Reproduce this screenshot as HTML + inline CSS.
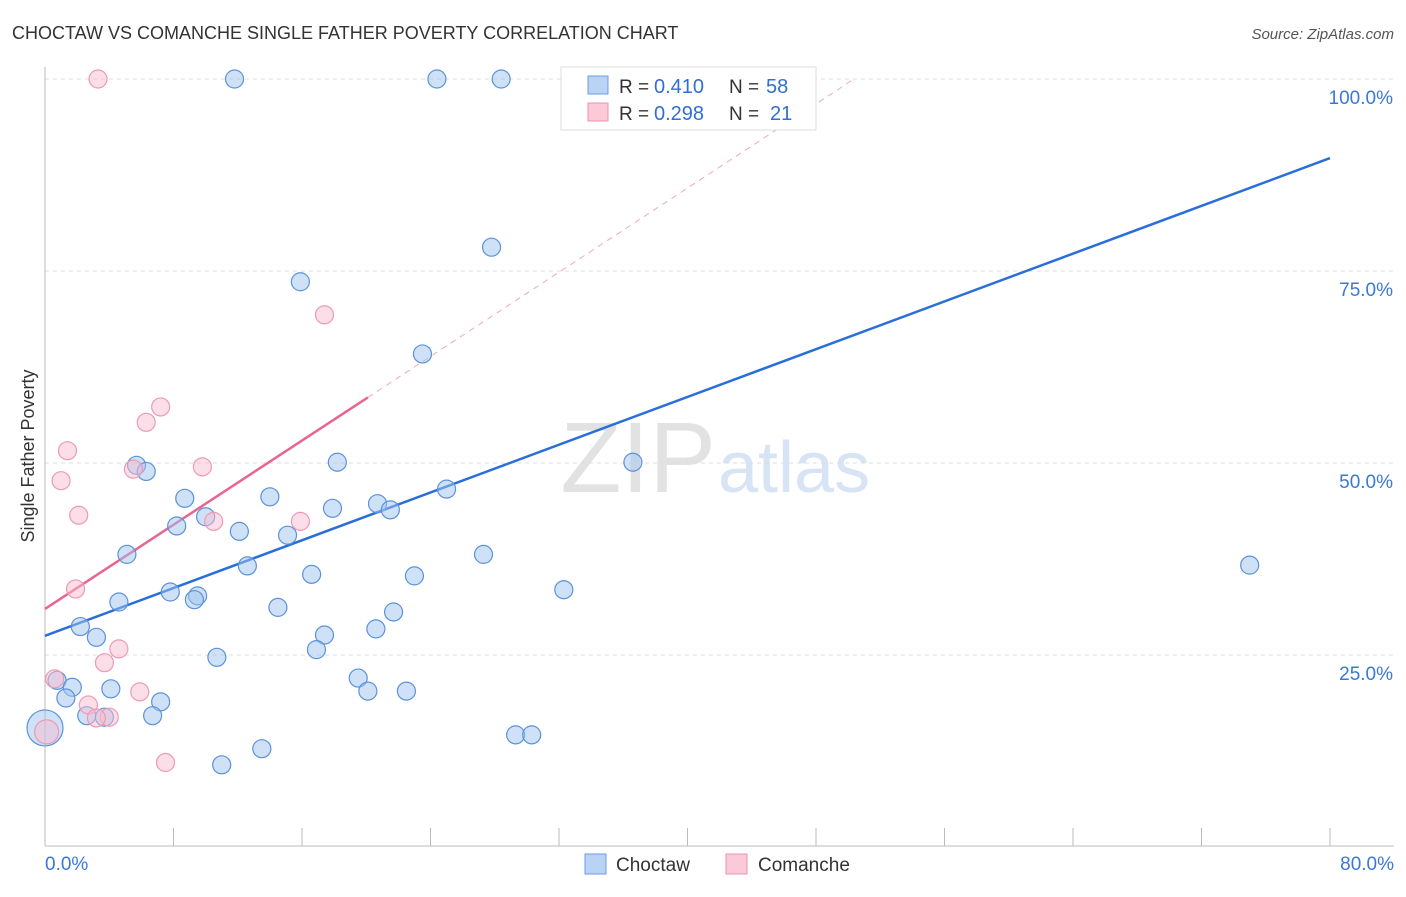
<!DOCTYPE html>
<html><head><meta charset="utf-8"><style>
body{margin:0;background:#fff;font-family:"Liberation Sans",sans-serif;}
svg text{font-family:"Liberation Sans",sans-serif;}
</style></head><body>
<svg id="chart" width="1406" height="892">
<text x="12" y="39" font-size="18" fill="#333">CHOCTAW VS COMANCHE SINGLE FATHER POVERTY CORRELATION CHART</text>
<text x="1394" y="39" font-size="15" fill="#555" font-style="italic" text-anchor="end">Source: ZipAtlas.com</text>
<text x="716" y="492" font-size="100" fill="#e2e2e2" text-anchor="end" font-family="Liberation Serif">ZIP</text>
<text x="718" y="492" font-size="72" fill="#d6e4f5">atlas</text>
<g id="grid"></g><g id="axes"></g><g id="lines"></g><g id="pts"></g>
<text transform="translate(34,456) rotate(-90)" font-size="18" fill="#333" text-anchor="middle">Single Father Poverty</text>
<g>
<rect x="561" y="67" width="255" height="63" fill="#fff" stroke="#ddd"/>
<rect x="588" y="76" width="20" height="18" fill="#b9d3f5" stroke="#6a9be0"/>
<rect x="588" y="103" width="20" height="18" fill="#fbc9d7" stroke="#ee93ad"/>
<text x="619" y="93" font-size="19" fill="#333">R =</text>
<text x="654" y="93" font-size="20" fill="#2f6fd6">0.410</text>
<text x="729" y="93" font-size="19" fill="#333">N =</text>
<text x="766" y="93" font-size="20" fill="#2f6fd6">58</text>
<text x="619" y="120" font-size="19" fill="#333">R =</text>
<text x="654" y="120" font-size="20" fill="#2f6fd6">0.298</text>
<text x="729" y="120" font-size="19" fill="#333">N =</text>
<text x="770" y="120" font-size="20" fill="#2f6fd6">21</text>
</g>
<g>
<rect x="585" y="854" width="21" height="20" fill="#b9d3f5" stroke="#6a9be0"/>
<text x="616" y="871" font-size="19" fill="#333">Choctaw</text>
<rect x="726" y="854" width="21" height="20" fill="#fbc9d7" stroke="#ee93ad"/>
<text x="758" y="871" font-size="19" fill="#333">Comanche</text>
</g>
</svg>
<script>
const xTicks=[0,8,16,24,32,40,48,56,64,72,80];
const yTicks=[25,50,75,100];
const yTickLabels=["25.0%","50.0%","75.0%","100.0%"];
const xEndLabels=["0.0%","80.0%"];
const choctawX=[11.8,24.4,28.4,32.7,35.7,45.3,27.8,15.9,23.5,18.2,36.6,5.7,6.3,8.7,14.0,8.2,10.0,12.1,15.1,17.9,20.7,21.5,25.0,5.1,27.3,12.6,16.6,23.0,7.8,9.5,9.3,32.3,75.0,4.6,14.5,21.7,2.2,3.2,17.4,20.6,16.9,10.7,19.5,0.75,1.7,4.1,20.1,22.5,1.3,7.2,2.6,3.7,6.7,13.5,11.0,29.3,30.3,0];
const choctawY=[100,100,100,100,100,100,78.1,73.6,64.2,50.1,50.1,49.7,48.9,45.4,45.6,41.8,43.0,41.1,40.6,44.1,44.7,43.9,46.6,38.1,38.1,36.6,35.5,35.3,33.2,32.7,32.2,33.5,36.7,31.9,31.2,30.6,28.7,27.3,27.6,28.4,25.7,24.7,22.0,21.7,20.8,20.6,20.3,20.3,19.4,18.9,17.1,16.9,17.1,12.8,10.7,14.6,14.6,15.5];
const choctawR=[9,9,9,9,9,9,9,9,9,9,9,9,9,9,9,9,9,9,9,9,9,9,9,9,9,9,9,9,9,9,9,9,9,9,9,9,9,9,9,9,9,9,9,9,9,9,9,9,9,9,9,9,9,9,9,9,9,18];
const comancheX=[3.3,17.4,7.2,6.3,1.4,9.8,5.5,1.0,2.1,10.5,15.9,1.9,4.6,3.7,0.6,5.9,2.7,4.0,3.2,7.5,0.1];
const comancheY=[100,69.3,57.3,55.3,51.6,49.5,49.2,47.7,43.2,42.4,42.4,33.6,25.8,24.0,21.9,20.2,18.5,16.9,16.8,11.0,15.0];
const comancheR=[9,9,9,9,9,9,9,9,9,9,9,9,9,9,9,9,9,9,9,9,12];
const blueFit=[27.5,89.7];
const pinkFit=[31.0,1.37,20.1];
const ns="http://www.w3.org/2000/svg";
const X=v=>45+v/80*1285, Y=v=>847-v/100*768;
function mk(tag,at,par){const e=document.createElementNS(ns,tag);for(const k in at)e.setAttribute(k,at[k]);document.getElementById(par).appendChild(e);return e;}
yTicks.forEach((t,i)=>{
 const g=mk('line',{x1:45,x2:1394,y1:Y(t),y2:Y(t),stroke:'#ddd','stroke-dasharray':'4,4'},'grid');
 
 
 const tx=mk('text',{x:1393,y:Y(t)+25,'font-size':19,fill:'#3a78d8','text-anchor':'end'},'axes');
 tx.textContent=yTickLabels[i];
 
 
});
let a=mk('line',{x1:45,x2:45,y1:67,y2:846,stroke:'#bbb'},'axes');


a=mk('line',{x1:45,x2:1394,y1:846,y2:846,stroke:'#bbb'},'axes');


xTicks.forEach(t=>{const l=mk('line',{x1:X(t),x2:X(t),y1:828,y2:846,stroke:'#bbb'},'axes');
 
 });
[[0,'start',45],[80,'end',1394]].forEach((p,i)=>{const t=mk('text',{x:p[2],y:870,'font-size':19,fill:'#3a78d8','text-anchor':p[1]},'axes');t.textContent=xEndLabels[i];
 
 });
let ln=mk('line',{x1:X(0),y1:Y(blueFit[0]),x2:X(80),y2:Y(blueFit[1]),stroke:'#2a6fd9','stroke-width':2.5},'lines');


const xe=(100-pinkFit[0])/pinkFit[1];
ln=mk('line',{x1:X(pinkFit[2]),y1:Y(pinkFit[0]+pinkFit[1]*pinkFit[2]),x2:X(xe),y2:Y(100),stroke:'#f0a8bd','stroke-width':1,'stroke-dasharray':'6,5'},'lines');


ln=mk('line',{x1:X(0),y1:Y(pinkFit[0]),x2:X(pinkFit[2]),y2:Y(pinkFit[0]+pinkFit[1]*pinkFit[2]),stroke:'#e8658f','stroke-width':2.5},'lines');


choctawX.forEach((x,i)=>{const c=mk('circle',{cx:X(x),cy:Y(choctawY[i]),r:choctawR[i],fill:'rgba(160,196,240,0.5)',stroke:'#5b92db','stroke-width':1.2},'pts');
 
 });
comancheX.forEach((x,i)=>{const c=mk('circle',{cx:X(x),cy:Y(comancheY[i]),r:comancheR[i],fill:'rgba(248,190,208,0.5)',stroke:'#ee9ab3','stroke-width':1.2},'pts');
 
 });
</script>
</body></html>
